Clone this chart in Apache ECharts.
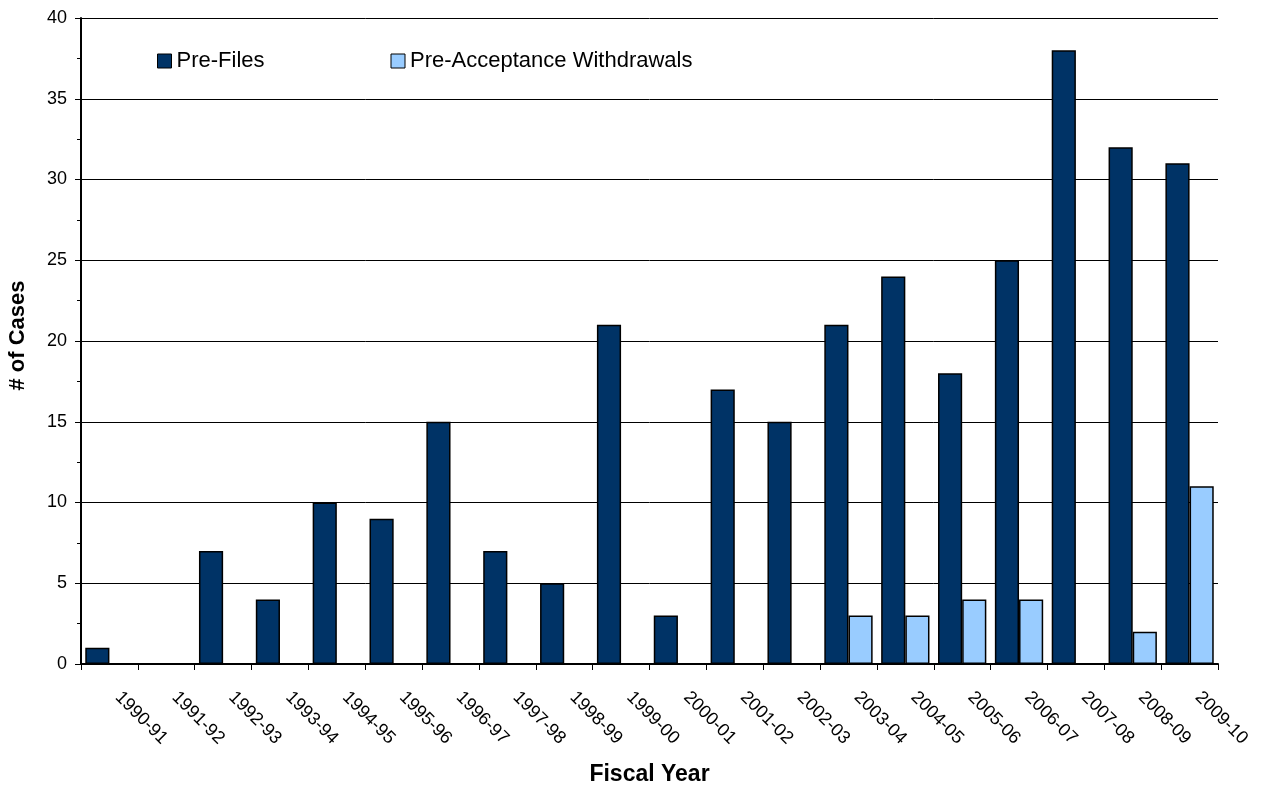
<!DOCTYPE html>
<html>
<head>
<meta charset="utf-8">
<title>Pre-Files and Pre-Acceptance Withdrawals by Fiscal Year</title>
<script src="https://cdn.jsdelivr.net/npm/echarts@6/dist/echarts.min.js"></script>
<style>
  html, body { margin: 0; padding: 0; background: #fff; }
  #chart { width: 1262px; height: 787px; }
</style>
</head>
<body>
<div id="chart"></div>
<script>
// Fiscal years on the category axis
const fiscalYears = [
  '1990-91', '1991-92', '1992-93', '1993-94', '1994-95',
  '1995-96', '1996-97', '1997-98', '1998-99', '1999-00',
  '2000-01', '2001-02', '2002-03', '2003-04', '2004-05',
  '2005-06', '2006-07', '2007-08', '2008-09', '2009-10'
];

// Number of cases per fiscal year
const preFiles = [1, 0, 7, 4, 10, 9, 15, 7, 5, 21, 3, 17, 15, 21, 24, 18, 25, 38, 32, 31];
const preAcceptanceWithdrawals = [0, 0, 0, 0, 0, 0, 0, 0, 0, 0, 0, 0, 0, 3, 3, 4, 4, 0, 2, 11];

// Value axis ticks
const yTicks = [0, 5, 10, 15, 20, 25, 30, 35, 40];

const FONT = '"Liberation Sans", Arial, Helvetica, sans-serif';

const chart = echarts.init(document.getElementById('chart'), null, { renderer: 'canvas' });

chart.setOption({
  animation: false,
  backgroundColor: '#ffffff',
  textStyle: { fontFamily: FONT, color: '#000' },
  grid: {
    left: 81, right: 44, top: 18, bottom: 123,
    containLabel: false,
    outerBoundsMode: 'none'
  },
  legend: {
    left: 157,
    top: 50,
    padding: 0,
    itemWidth: 14,
    itemHeight: 14,
    itemGap: 126,
    icon: 'rect',
    textStyle: { fontFamily: FONT, fontSize: 22, color: '#000' },
    itemStyle: { borderColor: '#000', borderWidth: 1 },
    data: ['Pre-Files', 'Pre-Acceptance Withdrawals']
  },
  xAxis: {
    type: 'category',
    data: fiscalYears,
    boundaryGap: true,
    name: 'Fiscal Year',
    nameLocation: 'middle',
    nameGap: 99,
    nameMoveOverlap: false,
    nameTextStyle: {
      fontFamily: FONT, fontSize: 23, fontWeight: 'bold', color: '#000',
      verticalAlign: 'top'
    },
    axisLine: { show: true, lineStyle: { color: '#000', width: 2 } },
    axisTick: { show: true, length: 6, lineStyle: { color: '#000', width: 1 } },
    axisLabel: {
      rotate: -45,
      margin: 22,
      padding: [0, 0, 0, 12],
      fontFamily: FONT,
      fontSize: 18,
      color: '#000',
      interval: 0
    },
    splitLine: { show: false }
  },
  yAxis: {
    type: 'value',
    min: yTicks[0],
    max: yTicks[yTicks.length - 1],
    interval: yTicks[1] - yTicks[0],
    name: '# of Cases',
    nameLocation: 'middle',
    nameRotate: 90,
    nameGap: 52,
    nameTextStyle: {
      fontFamily: FONT, fontSize: 22, fontWeight: 'bold', color: '#000',
      padding: [0, 0, 0, 11]
    },
    axisLine: { show: true, lineStyle: { color: '#000', width: 2 } },
    axisTick: { show: true, length: 6, lineStyle: { color: '#000', width: 1 } },
    minorTick: { show: true, splitNumber: 2, length: 4, lineStyle: { color: '#000', width: 1 } },
    axisLabel: { margin: 14, fontFamily: FONT, fontSize: 18, color: '#000' },
    splitLine: { show: true, lineStyle: { color: '#000', width: 1 } }
  },
  series: [
    {
      name: 'Pre-Files',
      type: 'bar',
      data: preFiles,
      barGap: '0%',
      barCategoryGap: '15%',
      itemStyle: { color: '#003366', borderColor: '#000', borderWidth: 1.5 }
    },
    {
      name: 'Pre-Acceptance Withdrawals',
      type: 'bar',
      data: preAcceptanceWithdrawals,
      barGap: '0%',
      barCategoryGap: '15%',
      itemStyle: { color: '#99CCFF', borderColor: '#000', borderWidth: 1.5 }
    }
  ]
});
</script>
</body>
</html>
